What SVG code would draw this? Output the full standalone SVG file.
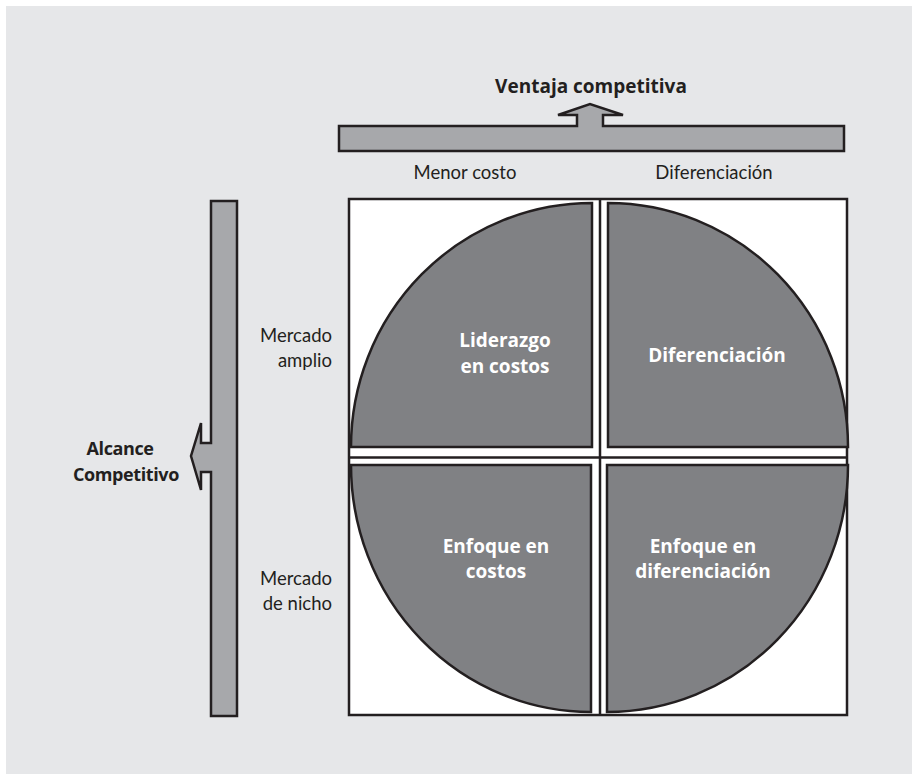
<svg xmlns="http://www.w3.org/2000/svg" width="912" height="774" viewBox="0 0 912 774">
<style>
.bar{fill:#a7a8ab;stroke:#231f20;stroke-width:2.5;stroke-linejoin:miter}
.q{fill:#808184;stroke:#231f20;stroke-width:2.5}
.ln{stroke:#231f20;stroke-width:2.5;fill:none}
.lbl{font-family:Lato,"Open Sans","Liberation Sans",sans-serif;font-size:18.5px;fill:#231f20}
.b{font-family:"Open Sans",Lato,"Liberation Sans",sans-serif;font-size:19px;font-weight:bold}
.side{font-size:18px;letter-spacing:-0.4px}
.w{font-family:"Open Sans",Lato,"Liberation Sans",sans-serif;font-size:19px;font-weight:bold;fill:#ffffff;text-anchor:middle}
</style>
<rect x="0" y="0" width="912" height="774" fill="#ffffff"/>
<rect x="6" y="6" width="906" height="768" fill="#e6e7e9"/>
<g id="ventaja">
<path class="bar" d="M339,126 H577 V115 H558 L590,104 L623,115 H603 V126 H844 V151 H339 Z"/>
<text class="lbl b" x="591" y="93" text-anchor="middle">Ventaja competitiva</text>
<text class="lbl" x="465" y="179" text-anchor="middle">Menor costo</text>
<text class="lbl" x="714" y="179" text-anchor="middle">Diferenciación</text>
</g>
<g id="alcance">
<path class="bar" d="M211,201 H237 V716 H211 V472 H201 V490 L191,456 L201,423 V443 H211 Z"/>
<text class="lbl b side" x="120" y="455" text-anchor="middle">Alcance</text>
<text class="lbl b side" x="126" y="481" text-anchor="middle">Competitivo</text>
<text class="lbl" x="332" y="342" text-anchor="end">Mercado</text>
<text class="lbl" x="332" y="367" text-anchor="end">amplio</text>
<text class="lbl" x="332" y="585" text-anchor="end">Mercado</text>
<text class="lbl" x="332" y="610" text-anchor="end">de nicho</text>
</g>
<g id="matriz">
<rect x="349" y="199" width="498" height="516" fill="#ffffff" stroke="#231f20" stroke-width="2.5"/>
<line class="ln" x1="600" y1="199" x2="600" y2="715"/>
<line class="ln" x1="349" y1="457.5" x2="847" y2="457.5"/>
</g>
<g id="liderazgo">
<path class="q" d="M592,447 H351 A241,244 0 0 1 592,203 Z"/>
<text class="w" x="505" y="347">Liderazgo</text>
<text class="w" x="505" y="373">en costos</text>
</g>
<g id="diferenciacion">
<path class="q" d="M608,447 V203 A240,244 0 0 1 848,447 Z"/>
<text class="w" x="717" y="362">Diferenciación</text>
</g>
<g id="enfoque-costos">
<path class="q" d="M591,465 H351 A240,247 0 0 0 591,712 Z"/>
<text class="w" x="496" y="553">Enfoque en</text>
<text class="w" x="496" y="578">costos</text>
</g>
<g id="enfoque-diferenciacion">
<path class="q" d="M607,465 H848 A241,247 0 0 1 607,712 Z"/>
<text class="w" x="703" y="553">Enfoque en</text>
<text class="w" x="703" y="578">diferenciación</text>
</g>
</svg>
